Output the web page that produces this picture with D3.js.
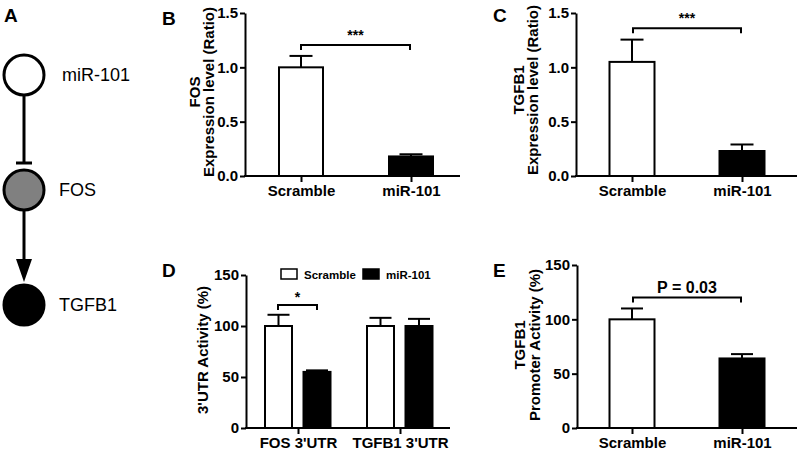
<!DOCTYPE html>
<html>
<head>
<meta charset="utf-8">
<script src="https://cdn.jsdelivr.net/npm/d3@7"></script>
<style>
  body { margin: 0; background: #fff; }
  svg { display: block; }
  text { font-family: "Liberation Sans", Arial, sans-serif; }
</style>
</head>
<body>
<div id="chart"></div>
<script>
// pathway (panel A)
var pathwayNodes = ['miR-101', 'FOS', 'TGFB1']
var pathwayFills = ['#ffffff', '#808080', '#000000']

// panel B / C
var groups = ['Scramble', 'miR-101']
var groupFills = ['#ffffff', '#000000']
var fosExpression = [1.0, 0.18]
var fosExpressionErr = [0.105, 0.02]
var tgfbExpression = [1.05, 0.23]
var tgfbExpressionErr = [0.205, 0.06]
var expressionTicks = [0, 0.5, 1.0, 1.5]

// panel D
var utrTargets = ["FOS 3'UTR", "TGFB1 3'UTR"]
var utrScramble = [100, 100]
var utrScrambleErr = [11, 8]
var utrMir = [55, 100]
var utrMirErr = [1.5, 7]

// panel E
var promoterActivity = [100, 64]
var promoterActivityErr = [10, 4]
var percentTicks = [0, 50, 100, 150]

var width = 800
var height = 451
var svg = d3.select('#chart').append('svg')
  .attr('width', width)
  .attr('height', height)

svg.append('rect').attr('width', width).attr('height', height).attr('fill', '#fff')

function panelLetter (letter, x, y) {
  svg.append('text')
    .attr('x', x).attr('y', y)
    .style('font-size', '19px').style('font-weight', 'bold')
    .text(letter)
}

// ---- panel A: pathway diagram
panelLetter('A', 4, 22)
var nodeY = d3.scalePoint().domain(pathwayNodes).range([75, 305])
var nodeR = 20
var a = svg.append('g')
// inhibition edge
a.append('line')
  .attr('x1', 24).attr('x2', 24)
  .attr('y1', nodeY('miR-101') + nodeR).attr('y2', nodeY('FOS') - nodeR - 7)
  .attr('stroke', '#000').attr('stroke-width', 3)
a.append('line')
  .attr('x1', 16).attr('x2', 32)
  .attr('y1', nodeY('FOS') - nodeR - 7).attr('y2', nodeY('FOS') - nodeR - 7)
  .attr('stroke', '#000').attr('stroke-width', 3)
// activation edge
var tipY = nodeY('TGFB1') - nodeR - 3
a.append('line')
  .attr('x1', 24).attr('x2', 24)
  .attr('y1', nodeY('FOS') + nodeR).attr('y2', tipY - 20)
  .attr('stroke', '#000').attr('stroke-width', 3)
a.append('path')
  .attr('d', 'M16,' + (tipY - 23) + 'L32,' + (tipY - 23) + 'L24,' + tipY + 'Z')
  .attr('fill', '#000')
a.selectAll('circle')
  .data(pathwayNodes)
  .enter().append('circle')
  .attr('cx', 24)
  .attr('cy', function (d) { return nodeY(d) })
  .attr('r', nodeR)
  .attr('fill', function (d, i) { return pathwayFills[i] })
  .attr('stroke', '#000').attr('stroke-width', 3)
a.selectAll('.nodeLabel')
  .data(pathwayNodes)
  .enter().append('text')
  .attr('class', 'nodeLabel')
  .attr('x', function (d, i) { return i === 0 ? 62 : 59 })
  .attr('y', function (d) { return nodeY(d) + 6 })
  .style('font-size', '18px')
  .text(function (d) { return d })

// ---- generic bar panel
function barPanel (cfg) {
  var g = svg.append('g')
  var y = d3.scaleLinear().domain(cfg.yDomain).range([cfg.bottom, cfg.top])
  var x = d3.scalePoint().domain(cfg.categories).range(cfg.catRange)

  // y axis
  var yAxis = g.append('g')
    .attr('transform', 'translate(' + cfg.axisX + ',0)')
    .call(d3.axisLeft(y).tickValues(cfg.ticks).tickFormat(cfg.tickFormat)
      .tickSize(5).tickPadding(2).tickSizeOuter(0))
  yAxis.select('.domain').attr('stroke-width', 2)
  yAxis.selectAll('line').attr('stroke-width', 2)
  yAxis.selectAll('text')
    .style('font-size', '15px').style('font-weight', 'bold')
    .attr('fill', '#000')
    .style('font-family', '"Liberation Sans", Arial, sans-serif')

  // x axis line + ticks
  g.append('line')
    .attr('x1', cfg.axisX - 1).attr('x2', cfg.axisEnd)
    .attr('y1', cfg.bottom).attr('y2', cfg.bottom)
    .attr('stroke', '#000').attr('stroke-width', 2)
  var xAxis = g.append('g')
    .attr('transform', 'translate(0,' + cfg.bottom + ')')
    .call(d3.axisBottom(x).tickSize(6).tickPadding(3))
  xAxis.select('.domain').remove()
  xAxis.selectAll('line').attr('stroke-width', 2)
  xAxis.selectAll('text')
    .style('font-size', '15px').style('font-weight', 'bold')
    .attr('fill', '#000')
    .style('font-family', '"Liberation Sans", Arial, sans-serif')

  // bars
  cfg.series.forEach(function (s) {
    var bars = g.append('g')
    bars.selectAll('rect')
      .data(cfg.categories)
      .enter().append('rect')
      .attr('x', function (d) { return x(d) + s.offset - cfg.barWidth / 2 })
      .attr('y', function (d, i) { return y(s.values[i]) })
      .attr('width', cfg.barWidth)
      .attr('height', function (d, i) { return cfg.bottom - y(s.values[i]) })
      .attr('fill', function (d, i) { return Array.isArray(s.fill) ? s.fill[i] : s.fill })
      .attr('stroke', '#000').attr('stroke-width', 2)
    // error bars (upper half only)
    bars.selectAll('.err')
      .data(cfg.categories)
      .enter().append('line')
      .attr('class', 'err')
      .attr('x1', function (d) { return x(d) + s.offset })
      .attr('x2', function (d) { return x(d) + s.offset })
      .attr('y1', function (d, i) { return y(s.values[i]) })
      .attr('y2', function (d, i) { return y(s.values[i] + s.errors[i]) })
      .attr('stroke', '#000').attr('stroke-width', 2)
    bars.selectAll('.cap')
      .data(cfg.categories)
      .enter().append('line')
      .attr('class', 'cap')
      .attr('x1', function (d) { return x(d) + s.offset - cfg.capWidth / 2 })
      .attr('x2', function (d) { return x(d) + s.offset + cfg.capWidth / 2 })
      .attr('y1', function (d, i) { return y(s.values[i] + s.errors[i]) })
      .attr('y2', function (d, i) { return y(s.values[i] + s.errors[i]) })
      .attr('stroke', '#000').attr('stroke-width', 2)
  })

  // significance bracket
  if (cfg.bracket) {
    var b = cfg.bracket
    var by = y(b.value)
    g.append('path')
      .attr('d', 'M' + b.x1 + ',' + (by + 5) + 'V' + by + 'H' + b.x2 + 'V' + (by + 5))
      .attr('fill', 'none').attr('stroke', '#000').attr('stroke-width', 2)
    g.append('text')
      .attr('x', (b.x1 + b.x2) / 2)
      .attr('y', by - b.gap)
      .style('text-anchor', 'middle')
      .style('font-size', b.size + 'px').style('font-weight', 'bold')
      .text(b.label)
  }

  // y title (one or two rotated lines)
  cfg.titleLines.forEach(function (t, i) {
    g.append('text')
      .attr('transform', 'translate(' + cfg.titleX[i] + ',' + cfg.titleY + ') rotate(-90)')
      .style('text-anchor', 'middle')
      .style('font-size', '15px').style('font-weight', 'bold')
      .text(t)
  })
  return { x: x, y: y, g: g }
}

var fmtRatio = d3.format('.1f')
var fmtInt = d3.format('d')

// ---- panel B
panelLetter('B', 162, 25)
barPanel({
  categories: groups,
  yDomain: [0, 1.5],
  ticks: expressionTicks,
  tickFormat: fmtRatio,
  bottom: 176, top: 13,
  axisX: 245, axisEnd: 460,
  catRange: [301, 411],
  barWidth: 44, capWidth: 23,
  series: [{ values: fosExpression, errors: fosExpressionErr, offset: 0, fill: groupFills }],
  bracket: { x1: 301, x2: 410, value: 1.205, label: '***', size: 14, gap: 5 },
  titleLines: ['FOS', 'Expression level (Ratio)'],
  titleX: [200, 214],
  titleY: 92
})

// ---- panel C
panelLetter('C', 493, 22)
barPanel({
  categories: groups,
  yDomain: [0, 1.5],
  ticks: expressionTicks,
  tickFormat: fmtRatio,
  bottom: 176, top: 13,
  axisX: 576, axisEnd: 797,
  catRange: [632, 742],
  barWidth: 45, capWidth: 23,
  series: [{ values: tgfbExpression, errors: tgfbExpressionErr, offset: 0, fill: groupFills }],
  bracket: { x1: 633, x2: 741, value: 1.36, label: '***', size: 14, gap: 5 },
  titleLines: ['TGFB1', 'Expression level (Ratio)'],
  titleX: [524, 538],
  titleY: 90
})

// ---- panel D
panelLetter('D', 162, 277)
barPanel({
  categories: utrTargets,
  yDomain: [0, 150],
  ticks: percentTicks,
  tickFormat: fmtInt,
  bottom: 428, top: 275,
  axisX: 246, axisEnd: 450,
  catRange: [298, 400],
  barWidth: 27, capWidth: 22,
  series: [
    { values: utrScramble, errors: utrScrambleErr, offset: -19.5, fill: groupFills[0] },
    { values: utrMir, errors: utrMirErr, offset: 19, fill: groupFills[1] }
  ],
  bracket: { x1: 278, x2: 317, value: 120.5, label: '*', size: 14, gap: 3 },
  titleLines: ["3'UTR Activity (%)"],
  titleX: [208],
  titleY: 350
})

// legend for D
var legend = svg.append('g').attr('transform', 'translate(281,269)')
var legendItems = legend.selectAll('g')
  .data(groups)
  .enter().append('g')
  .attr('transform', function (dd, i) { return 'translate(' + (i * 82) + ',0)' })
legendItems.append('rect')
  .attr('width', 16).attr('height', 10)
  .attr('fill', function (dd, i) { return groupFills[i] })
  .attr('stroke', '#000').attr('stroke-width', 1.5)
legendItems.append('text')
  .attr('x', 23).attr('y', 10)
  .style('font-size', '11.5px').style('font-weight', 'bold')
  .text(function (dd) { return dd })

// ---- panel E
panelLetter('E', 493, 277)
barPanel({
  categories: groups,
  yDomain: [0, 150],
  ticks: percentTicks,
  tickFormat: fmtInt,
  bottom: 428, top: 265,
  axisX: 577, axisEnd: 797,
  catRange: [632, 742],
  barWidth: 45, capWidth: 22,
  series: [{ values: promoterActivity, errors: promoterActivityErr, offset: 0, fill: groupFills }],
  bracket: { x1: 633, x2: 741, value: 120, label: 'P = 0.03', size: 16, gap: 5 },
  titleLines: ['TGFB1', 'Promoter Activity (%)'],
  titleX: [525, 540],
  titleY: 345
})
</script>
</body>
</html>
